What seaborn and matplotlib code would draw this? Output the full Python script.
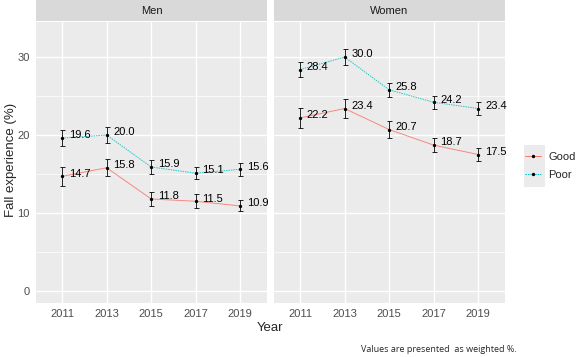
import numpy as np
import pandas as pd
import seaborn as sns
import matplotlib.pyplot as plt
from matplotlib.lines import Line2D
from matplotlib.patches import Rectangle

# data
years = [2011, 2013, 2015, 2017, 2019]
panels = ["Men", "Women"]
groups = ["Good", "Poor"]
men_good = [14.7, 15.8, 11.8, 11.5, 10.9]
men_poor = [19.6, 20.0, 15.9, 15.1, 15.6]
women_good = [22.2, 23.4, 20.7, 18.7, 17.5]
women_poor = [28.4, 30.0, 25.8, 24.2, 23.4]
# half width of the error bars (estimated)
men_good_err = [1.2, 1.1, 0.9, 0.9, 0.7]
men_poor_err = [1.0, 1.0, 0.9, 0.8, 0.8]
women_good_err = [1.3, 1.2, 1.1, 0.9, 0.8]
women_poor_err = [1.0, 1.0, 0.9, 0.8, 0.8]

values = {("Men", "Good"): (men_good, men_good_err), ("Men", "Poor"): (men_poor, men_poor_err),
          ("Women", "Good"): (women_good, women_good_err), ("Women", "Poor"): (women_poor, women_poor_err)}

rows = []
for (sex, grp), (vals, errs) in values.items():
    for yr, v, e in zip(years, vals, errs):
        rows.append({"Sex": sex, "Health": grp, "Year": yr, "Fall": v, "err": e})
df = pd.DataFrame(rows)

sns.set_style("white")
plt.rcParams['font.family'] = ['Liberation Sans', 'DejaVu Sans']

palette = {"Good": "#F8766D", "Poor": "#00BFC4"}
dashes = {"Good": "", "Poor": (1.5, 1.0)}

fig = plt.figure(figsize=(5.78, 3.57), dpi=100)
W, H = 578, 357
panel_x = [(36, 267), (274, 505)]
top, bottom, strip_h = 22, 303, 21

for i, sex in enumerate(panels):
    x0, x1 = panel_x[i]
    ax = fig.add_axes([x0 / W, 1 - bottom / H, (x1 - x0) / W, (bottom - top) / H])
    ax.set_facecolor("#EBEBEB")
    sub = df[df["Sex"] == sex]
    for y in [5, 15, 25]:
        ax.axhline(y, color="white", lw=0.5, zorder=0)
    ax.grid(True, color="white", lw=1.0, zorder=0)
    ax.set_axisbelow(True)
    sns.lineplot(data=sub, x="Year", y="Fall", hue="Health", style="Health", palette=palette,
                 dashes=dashes, lw=0.7, alpha=0.85, ax=ax, legend=False, zorder=2)
    ax.errorbar(sub["Year"], sub["Fall"], yerr=sub["err"], fmt="o", ms=1.4, color="black",
                ecolor="black", elinewidth=0.6, capsize=1.8, capthick=0.6, zorder=3)
    for _, r in sub.iterrows():
        ax.text(r["Year"] + 0.3, r["Fall"] + 0.35, f"{r['Fall']:.1f}", fontsize=8, color="black",
                va="center", ha="left", zorder=4)
    ax.set_xlim(2009.83, 2020.2)
    ax.set_ylim(-1.55, 34.5)
    ax.set_xticks(years)
    ax.set_yticks([0, 10, 20, 30])
    for s in ax.spines.values():
        s.set_visible(False)
    ax.tick_params(axis="both", length=2.5, width=0.6, color="#333333", labelsize=8,
                   labelcolor="#4D4D4D", pad=2)
    if i == 1:
        ax.tick_params(axis="y", left=False, labelleft=False)
    ax.set_xlabel("")
    ax.set_ylabel("")
    # strip
    sax = fig.add_axes([x0 / W, 1 - top / H + 0.002, (x1 - x0) / W, strip_h / H])
    sax.set_facecolor("#D9D9D9")
    sax.set_xticks([])
    sax.set_yticks([])
    for s in sax.spines.values():
        s.set_visible(False)
    sax.text(0.5, 0.5, sex, ha="center", va="center", fontsize=8, color="#1A1A1A",
             transform=sax.transAxes)

fig.text(11 / W, 1 - 160 / H, "Fall experience (%)", rotation=90, ha="center", va="center", fontsize=9.5)
fig.text(270 / W, 1 - 328 / H, "Year", ha="center", va="center", fontsize=9.5)
fig.text(439 / W, 1 - 350 / H, "Values are presented  as weighted %.", ha="center", va="center",
         fontsize=6.5, family=['Open Sans', 'DejaVu Sans'])

# legend key background
fig.patches.append(Rectangle((524 / W, 1 - 187 / H), 21 / W, 42 / H, transform=fig.transFigure,
                             facecolor="#EBEBEB", edgecolor="none", zorder=0))
handles = [Line2D([], [], color=palette[g], lw=0.7, linestyle="-" if g == "Good" else (0, (1.5, 1.0)),
                  marker="o", ms=1.4, mfc="black", mec="black") for g in groups]
leg = fig.legend(handles, groups, loc="center left", bbox_to_anchor=(525 / W, 1 - 166 / H),
                 frameon=False, fontsize=8, handlelength=1.4, handletextpad=0.7, labelspacing=0.75,
                 borderpad=0, borderaxespad=0)

plt.savefig("out.png", dpi=100)
